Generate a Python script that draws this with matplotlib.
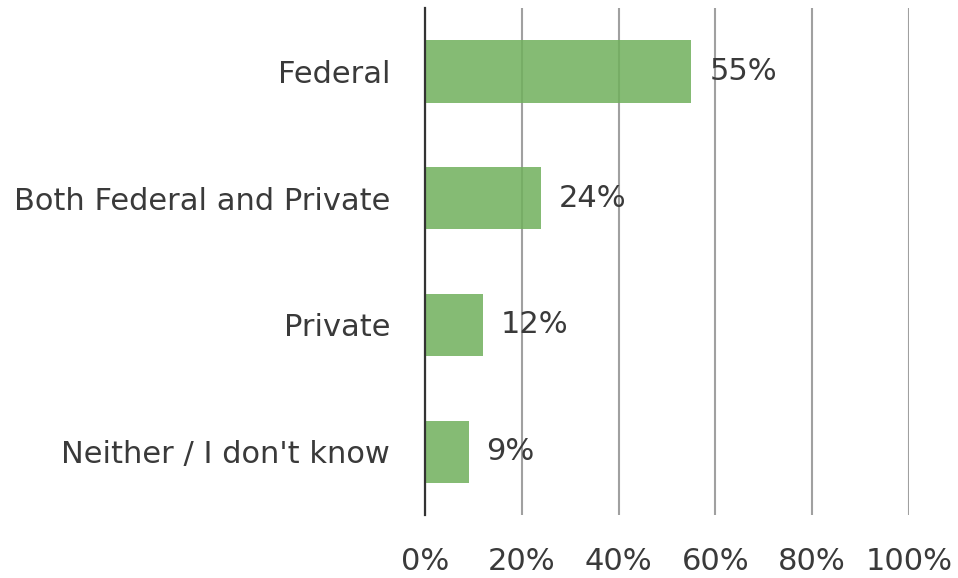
import matplotlib
matplotlib.use("Agg")
import matplotlib.pyplot as plt

# survey answers, top to bottom
categories = ["Federal", "Both Federal and Private", "Private", "Neither / I don't know"]
shares = [55, 24, 12, 9]
tick_vals = [0, 20, 40, 60, 80, 100]

plt.rcParams["font.family"] = "DejaVu Sans"
text_col = "#3a3a3a"
fs = 22

fig = plt.figure(figsize=(9.58, 5.78), dpi=100)
ax = fig.add_axes([0.4436, 0.109, 0.5053, 0.877])

pos = list(range(len(categories)))
ax.barh(pos, shares, height=0.49, color="#70b05c", alpha=0.85, zorder=3)

for p, v in zip(pos, shares):
    ax.annotate(f"{v}%", (v, p), xytext=(13, 0), textcoords="offset points",
                va="center", ha="left", fontsize=fs, color=text_col, zorder=4)

ax.set_xlim(0, 100)
ax.set_ylim(3.5, -0.5)
ax.set_xticks(tick_vals)
ax.set_xticklabels([f"{t}%" for t in tick_vals])
ax.set_yticks(pos)
ax.set_yticklabels(categories)
ax.tick_params(axis="x", length=0, pad=23, labelsize=fs, labelcolor=text_col)
ax.tick_params(axis="y", length=0, pad=25, labelsize=fs, labelcolor=text_col)

ax.grid(axis="x", color="#a0a0a0", linewidth=1.5, zorder=0)
for s in ["top", "right", "bottom"]:
    ax.spines[s].set_visible(False)
ax.spines["left"].set_color("#333333")
ax.spines["left"].set_linewidth(1.6)
ax.spines["left"].set_zorder(5)

fig.savefig("out.png", dpi=100)
